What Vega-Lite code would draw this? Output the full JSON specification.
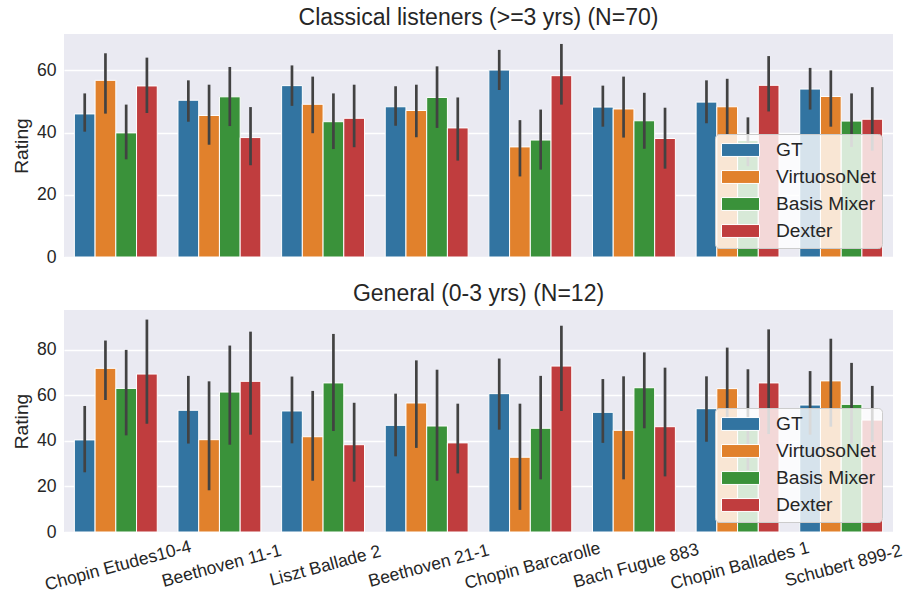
{
  "$schema": "https://vega.github.io/schema/vega-lite/v6.json",
  "padding": {"left": 12, "top": 7, "right": 16, "bottom": 5},
  "background": "white",
  "datasets": {
    "ratings": [
      {"panel": "C", "piece": "Chopin Etudes10-4", "model": "GT", "mean": 46.0, "lo": 40.3, "hi": 52.6},
      {"panel": "C", "piece": "Chopin Etudes10-4", "model": "VirtuosoNet", "mean": 56.8, "lo": 46.1, "hi": 65.5},
      {"panel": "C", "piece": "Chopin Etudes10-4", "model": "Basis Mixer", "mean": 39.9, "lo": 31.4, "hi": 49.0},
      {"panel": "C", "piece": "Chopin Etudes10-4", "model": "Dexter", "mean": 55.0, "lo": 46.3, "hi": 64.1},
      {"panel": "C", "piece": "Beethoven 11-1", "model": "GT", "mean": 50.4, "lo": 43.5, "hi": 56.8},
      {"panel": "C", "piece": "Beethoven 11-1", "model": "VirtuosoNet", "mean": 45.5, "lo": 36.1, "hi": 55.4},
      {"panel": "C", "piece": "Beethoven 11-1", "model": "Basis Mixer", "mean": 51.5, "lo": 42.1, "hi": 61.1},
      {"panel": "C", "piece": "Beethoven 11-1", "model": "Dexter", "mean": 38.4, "lo": 29.5, "hi": 48.2},
      {"panel": "C", "piece": "Liszt Ballade 2", "model": "GT", "mean": 55.1, "lo": 48.6, "hi": 61.6},
      {"panel": "C", "piece": "Liszt Ballade 2", "model": "VirtuosoNet", "mean": 49.1, "lo": 39.8, "hi": 58.0},
      {"panel": "C", "piece": "Liszt Ballade 2", "model": "Basis Mixer", "mean": 43.5, "lo": 34.7, "hi": 52.6},
      {"panel": "C", "piece": "Liszt Ballade 2", "model": "Dexter", "mean": 44.6, "lo": 35.3, "hi": 55.4},
      {"panel": "C", "piece": "Beethoven 21-1", "model": "GT", "mean": 48.3, "lo": 42.2, "hi": 54.9},
      {"panel": "C", "piece": "Beethoven 21-1", "model": "VirtuosoNet", "mean": 47.1, "lo": 38.5, "hi": 55.4},
      {"panel": "C", "piece": "Beethoven 21-1", "model": "Basis Mixer", "mean": 51.3, "lo": 41.5, "hi": 61.3},
      {"panel": "C", "piece": "Beethoven 21-1", "model": "Dexter", "mean": 41.5, "lo": 31.0, "hi": 51.3},
      {"panel": "C", "piece": "Chopin Barcarolle", "model": "GT", "mean": 60.1, "lo": 53.7, "hi": 66.6},
      {"panel": "C", "piece": "Chopin Barcarolle", "model": "VirtuosoNet", "mean": 35.4, "lo": 25.9, "hi": 44.0},
      {"panel": "C", "piece": "Chopin Barcarolle", "model": "Basis Mixer", "mean": 37.6, "lo": 28.1, "hi": 47.4},
      {"panel": "C", "piece": "Chopin Barcarolle", "model": "Dexter", "mean": 58.3, "lo": 49.0, "hi": 68.5},
      {"panel": "C", "piece": "Bach Fugue 883", "model": "GT", "mean": 48.2, "lo": 41.9, "hi": 55.1},
      {"panel": "C", "piece": "Bach Fugue 883", "model": "VirtuosoNet", "mean": 47.6, "lo": 38.4, "hi": 58.0},
      {"panel": "C", "piece": "Bach Fugue 883", "model": "Basis Mixer", "mean": 43.8, "lo": 34.8, "hi": 52.8},
      {"panel": "C", "piece": "Bach Fugue 883", "model": "Dexter", "mean": 38.1, "lo": 28.4, "hi": 48.0},
      {"panel": "C", "piece": "Chopin Ballades 1", "model": "GT", "mean": 49.8, "lo": 43.0, "hi": 56.8},
      {"panel": "C", "piece": "Chopin Ballades 1", "model": "VirtuosoNet", "mean": 48.3, "lo": 39.5, "hi": 57.3},
      {"panel": "C", "piece": "Chopin Ballades 1", "model": "Basis Mixer", "mean": 37.5, "lo": 29.2, "hi": 44.9},
      {"panel": "C", "piece": "Chopin Ballades 1", "model": "Dexter", "mean": 55.2, "lo": 46.8, "hi": 64.6},
      {"panel": "C", "piece": "Schubert 899-2", "model": "GT", "mean": 54.0, "lo": 47.4, "hi": 60.8},
      {"panel": "C", "piece": "Schubert 899-2", "model": "VirtuosoNet", "mean": 51.6, "lo": 41.9, "hi": 60.0},
      {"panel": "C", "piece": "Schubert 899-2", "model": "Basis Mixer", "mean": 43.7, "lo": 35.4, "hi": 52.6},
      {"panel": "C", "piece": "Schubert 899-2", "model": "Dexter", "mean": 44.3, "lo": 34.2, "hi": 54.6},
      {"panel": "G", "piece": "Chopin Etudes10-4", "model": "GT", "mean": 40.4, "lo": 26.2, "hi": 55.3},
      {"panel": "G", "piece": "Chopin Etudes10-4", "model": "VirtuosoNet", "mean": 71.8, "lo": 57.9, "hi": 84.0},
      {"panel": "G", "piece": "Chopin Etudes10-4", "model": "Basis Mixer", "mean": 63.0, "lo": 42.4, "hi": 79.9},
      {"panel": "G", "piece": "Chopin Etudes10-4", "model": "Dexter", "mean": 69.3, "lo": 47.5, "hi": 93.2},
      {"panel": "G", "piece": "Beethoven 11-1", "model": "GT", "mean": 53.4, "lo": 38.8, "hi": 68.5},
      {"panel": "G", "piece": "Beethoven 11-1", "model": "VirtuosoNet", "mean": 40.5, "lo": 18.3, "hi": 66.1},
      {"panel": "G", "piece": "Beethoven 11-1", "model": "Basis Mixer", "mean": 61.4, "lo": 38.3, "hi": 81.8},
      {"panel": "G", "piece": "Beethoven 11-1", "model": "Dexter", "mean": 66.1, "lo": 42.7, "hi": 87.9},
      {"panel": "G", "piece": "Liszt Ballade 2", "model": "GT", "mean": 53.1, "lo": 38.9, "hi": 68.2},
      {"panel": "G", "piece": "Liszt Ballade 2", "model": "VirtuosoNet", "mean": 41.8, "lo": 22.5, "hi": 61.9},
      {"panel": "G", "piece": "Liszt Ballade 2", "model": "Basis Mixer", "mean": 65.4, "lo": 44.3, "hi": 86.9},
      {"panel": "G", "piece": "Liszt Ballade 2", "model": "Dexter", "mean": 38.3, "lo": 22.1, "hi": 56.7},
      {"panel": "G", "piece": "Beethoven 21-1", "model": "GT", "mean": 46.8, "lo": 33.2, "hi": 60.7},
      {"panel": "G", "piece": "Beethoven 21-1", "model": "VirtuosoNet", "mean": 56.6, "lo": 36.9, "hi": 75.3},
      {"panel": "G", "piece": "Beethoven 21-1", "model": "Basis Mixer", "mean": 46.5, "lo": 22.5, "hi": 71.2},
      {"panel": "G", "piece": "Beethoven 21-1", "model": "Dexter", "mean": 39.1, "lo": 25.7, "hi": 56.3},
      {"panel": "G", "piece": "Chopin Barcarolle", "model": "GT", "mean": 60.7, "lo": 44.9, "hi": 76.1},
      {"panel": "G", "piece": "Chopin Barcarolle", "model": "VirtuosoNet", "mean": 32.8, "lo": 9.7, "hi": 56.3},
      {"panel": "G", "piece": "Chopin Barcarolle", "model": "Basis Mixer", "mean": 45.5, "lo": 23.1, "hi": 68.5},
      {"panel": "G", "piece": "Chopin Barcarolle", "model": "Dexter", "mean": 72.8, "lo": 53.1, "hi": 90.5},
      {"panel": "G", "piece": "Bach Fugue 883", "model": "GT", "mean": 52.5, "lo": 39.1, "hi": 67.1},
      {"panel": "G", "piece": "Bach Fugue 883", "model": "VirtuosoNet", "mean": 44.6, "lo": 23.1, "hi": 68.3},
      {"panel": "G", "piece": "Bach Fugue 883", "model": "Basis Mixer", "mean": 63.3, "lo": 45.5, "hi": 78.8},
      {"panel": "G", "piece": "Bach Fugue 883", "model": "Dexter", "mean": 46.2, "lo": 24.4, "hi": 72.1},
      {"panel": "G", "piece": "Chopin Ballades 1", "model": "GT", "mean": 54.1, "lo": 39.6, "hi": 68.3},
      {"panel": "G", "piece": "Chopin Ballades 1", "model": "VirtuosoNet", "mean": 62.9, "lo": 45.0, "hi": 80.9},
      {"panel": "G", "piece": "Chopin Ballades 1", "model": "Basis Mixer", "mean": 50.0, "lo": 27.2, "hi": 71.4},
      {"panel": "G", "piece": "Chopin Ballades 1", "model": "Dexter", "mean": 65.4, "lo": 43.0, "hi": 88.9},
      {"panel": "G", "piece": "Schubert 899-2", "model": "GT", "mean": 55.7, "lo": 42.7, "hi": 70.6},
      {"panel": "G", "piece": "Schubert 899-2", "model": "VirtuosoNet", "mean": 66.3, "lo": 46.2, "hi": 84.8},
      {"panel": "G", "piece": "Schubert 899-2", "model": "Basis Mixer", "mean": 56.0, "lo": 38.9, "hi": 74.2},
      {"panel": "G", "piece": "Schubert 899-2", "model": "Dexter", "mean": 49.1, "lo": 39.5, "hi": 64.1}
    ]
  },
  "data": {"name": "ratings"},
  "spacing": 17,
  "resolve": {"scale": {"y": "independent", "x": "independent"}, "legend": {"color": "independent"}},
  "vconcat": [
    {
      "title": {"text": "Classical listeners (>=3 yrs) (N=70)"},
      "width": 829,
      "height": 223,
      "transform": [{"filter": "datum.panel === 'C'"}],
      "encoding": {
        "x": {"field": "piece", "type": "nominal", "sort": ["Chopin Etudes10-4", "Beethoven 11-1", "Liszt Ballade 2", "Beethoven 21-1", "Chopin Barcarolle", "Bach Fugue 883", "Chopin Ballades 1", "Schubert 899-2"], "scale": {"paddingInner": 0.2, "paddingOuter": 0.1}, "axis": null},
        "xOffset": {"field": "model", "type": "nominal", "sort": ["GT", "VirtuosoNet", "Basis Mixer", "Dexter"], "scale": {"paddingInner": 0, "paddingOuter": 0}}
      },
      "layer": [
        {
          "mark": {"type": "bar", "stroke": "white", "strokeWidth": 1},
          "encoding": {
            "y": {"field": "mean", "type": "quantitative", "scale": {"domain": [0, 71.7], "nice": false}, "axis": {"values": [0, 20, 40, 60], "title": "Rating"}},
            "color": {"field": "model", "type": "nominal", "sort": ["GT", "VirtuosoNet", "Basis Mixer", "Dexter"], "scale": {"domain": ["GT", "VirtuosoNet", "Basis Mixer", "Dexter"], "range": ["#3274A1", "#E1812C", "#3A923A", "#C03D3E"]}, "legend": {"orient": "none", "legendX": 651, "legendY": 100}}
          }
        },
        {
          "mark": {"type": "rule", "color": "#424242", "strokeWidth": 2.7},
          "encoding": {
            "y": {"field": "lo", "type": "quantitative"},
            "y2": {"field": "hi"}
          }
        }
      ]
    },
    {
      "title": {"text": "General (0-3 yrs) (N=12)"},
      "width": 829,
      "height": 222,
      "transform": [{"filter": "datum.panel === 'G'"}],
      "encoding": {
        "x": {"field": "piece", "type": "nominal", "sort": ["Chopin Etudes10-4", "Beethoven 11-1", "Liszt Ballade 2", "Beethoven 21-1", "Chopin Barcarolle", "Bach Fugue 883", "Chopin Ballades 1", "Schubert 899-2"], "scale": {"paddingInner": 0.2, "paddingOuter": 0.1}, "axis": {"title": null, "labelAngle": -15, "labelAlign": "center", "labelBaseline": "top", "labelPadding": 25, "grid": false, "labelFontSize": 17.6}},
        "xOffset": {"field": "model", "type": "nominal", "sort": ["GT", "VirtuosoNet", "Basis Mixer", "Dexter"], "scale": {"paddingInner": 0, "paddingOuter": 0}}
      },
      "layer": [
        {
          "mark": {"type": "bar", "stroke": "white", "strokeWidth": 1},
          "encoding": {
            "y": {"field": "mean", "type": "quantitative", "scale": {"domain": [0, 97.4], "nice": false}, "axis": {"values": [0, 20, 40, 60, 80], "title": "Rating"}},
            "color": {"field": "model", "type": "nominal", "sort": ["GT", "VirtuosoNet", "Basis Mixer", "Dexter"], "scale": {"domain": ["GT", "VirtuosoNet", "Basis Mixer", "Dexter"], "range": ["#3274A1", "#E1812C", "#3A923A", "#C03D3E"]}, "legend": {"orient": "none", "legendX": 651, "legendY": 98}}
          }
        },
        {
          "mark": {"type": "rule", "color": "#424242", "strokeWidth": 2.7},
          "encoding": {
            "y": {"field": "lo", "type": "quantitative"},
            "y2": {"field": "hi"}
          }
        }
      ]
    }
  ],
  "config": {
    "font": "Liberation Sans",
    "view": {"fill": "#EAEAF2", "stroke": null},
    "title": {"fontSize": 23, "fontWeight": "normal", "color": "#262626", "offset": 0, "anchor": "middle"},
    "axis": {"domain": false, "ticks": false, "labelFontSize": 17.6, "labelColor": "#262626", "titleFontSize": 19.2, "titleFontWeight": "normal", "titleColor": "#262626", "labelPadding": 8, "titlePadding": 5, "gridColor": "white", "gridWidth": 1.5},
    "axisY": {"grid": true},
    "axisX": {"grid": false},
    "legend": {
      "title": null,
      "fillColor": "rgba(255,255,255,0.8)",
      "strokeColor": "#cccccc",
      "cornerRadius": 4,
      "padding": 6,
      "labelFontSize": 19.2,
      "labelColor": "#262626",
      "labelOffset": 35,
      "rowPadding": 6,
      "symbolType": "M-1,-0.68H3V0.68H-1Z",
      "symbolSize": 361,
      "symbolStrokeColor": "white",
      "symbolStrokeWidth": 1,
      "symbolOpacity": 1
    }
  }
}
